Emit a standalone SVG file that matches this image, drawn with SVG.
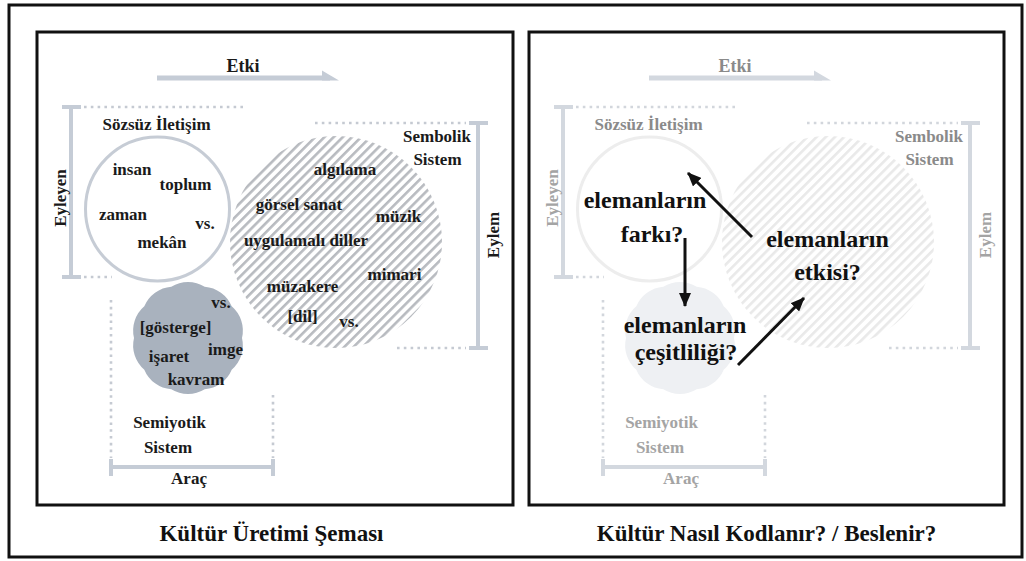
<svg xmlns="http://www.w3.org/2000/svg" width="1026" height="561" viewBox="0 0 1026 561">
  <defs>
    <style>
      .t { font-family: "Liberation Serif", "Times New Roman", serif; font-weight: bold; font-size: 17px; fill: #1a1a1a; text-anchor: middle; }
      .big { font-size: 24px; fill: #111; }
      .title { font-size: 23px; fill: #111; }
      .etki { font-size: 18px; }
      .gray { fill: #8a8a8a; }
      .gray2 { fill: #a4a4a4; }
      .frame { fill: none; stroke: #111; stroke-width: 3; }
      .bar { stroke: #c5ccd6; stroke-width: 4; fill: none; }
      .bar-f { stroke: #d3d8df; stroke-width: 4; fill: none; }
      .dots { stroke: #c5cad2; stroke-width: 2.6; stroke-dasharray: 2.6 4.2; fill: none; }
      .dots-f { stroke: #d2d6dc; stroke-width: 2.6; stroke-dasharray: 2.6 4.2; fill: none; }
      .conn { stroke: #111; stroke-width: 3; fill: none; marker-end: url(#head); }
    </style>
    <pattern id="stripes" width="6.5" height="6.5" patternUnits="userSpaceOnUse" patternTransform="rotate(45)">
      <rect width="2.6" height="6.5" fill="#b8bbc0"/>
    </pattern>
    <pattern id="stripes-f" width="6.5" height="6.5" patternUnits="userSpaceOnUse" patternTransform="rotate(45)">
      <rect width="2.6" height="6.5" fill="#e9e9e9"/>
    </pattern>
    <marker id="head" viewBox="0 0 14 12" markerWidth="14" markerHeight="12" refX="13" refY="6" orient="auto" markerUnits="userSpaceOnUse">
      <path d="M0,0 L14,6 L0,12 z" fill="#111"/>
    </marker>
    <!-- gently scalloped blob, centred at 0,0 -->
    <path id="blob" d="M54,0 A32,32 0 0 1 43.69,31.74 A32,32 0 0 1 16.69,51.36 A32,32 0 0 1 -16.69,51.36 A32,32 0 0 1 -43.69,31.74 A32,32 0 0 1 -54,0 A32,32 0 0 1 -43.69,-31.74 A32,32 0 0 1 -16.69,-51.36 A32,32 0 0 1 16.69,-51.36 A32,32 0 0 1 43.69,-31.74 A32,32 0 0 1 54,0 Z"/>
  </defs>

  <rect width="1026" height="561" fill="#fff"/>

  <!-- outer frame and the two panels -->
  <rect class="frame" x="9" y="5" width="1013" height="552"/>
  <rect class="frame" x="37" y="32" width="476" height="473"/>
  <rect class="frame" x="529" y="32" width="475" height="473"/>

  <!-- ===== left panel: Kültür Üretimi Şeması ===== -->
  <g id="etki-left">
    <line x1="157" y1="78" x2="330" y2="78" stroke="#c5ccd6" stroke-width="5"/>
    <polygon points="322,70.5 339,80.5 322,80.5" fill="#c5ccd6"/>
    <text class="t etki" x="243" y="72">Etki</text>
  </g>

  <g id="sozsuz-iletisim">
    <line class="bar" x1="71" y1="107" x2="71" y2="277"/>
    <line class="bar" x1="62" y1="107" x2="81" y2="107"/>
    <line class="bar" x1="62" y1="277" x2="81" y2="277"/>
    <line class="dots" x1="84" y1="107" x2="244" y2="107"/>
    <line class="dots" x1="84" y1="277" x2="112" y2="277"/>
    <text class="t" transform="translate(66,198) rotate(-90)" x="0" y="0">Eyleyen</text>
    <text class="t" x="156.5" y="130">Sözsüz İletişim</text>
    <circle cx="157.5" cy="209" r="72" fill="#fff" stroke="#c6ccd5" stroke-width="3"/>
    <text class="t" x="132" y="175">insan</text>
    <text class="t" x="185.5" y="190">toplum</text>
    <text class="t" x="123" y="220">zaman</text>
    <text class="t" x="205" y="229">vs.</text>
    <text class="t" x="162" y="248">mekân</text>
  </g>

  <g id="sembolik-sistem">
    <line class="bar" x1="478" y1="123" x2="478" y2="348"/>
    <line class="bar" x1="469" y1="123" x2="488" y2="123"/>
    <line class="bar" x1="469" y1="348" x2="488" y2="348"/>
    <line class="dots" x1="315" y1="123" x2="466" y2="123"/>
    <line class="dots" x1="397" y1="348" x2="466" y2="348"/>
    <text class="t" transform="translate(499,235) rotate(-90)" x="0" y="0">Eylem</text>
    <circle cx="336" cy="242" r="106" fill="url(#stripes)"/>
    <text class="t" x="437" y="142">Sembolik</text>
    <text class="t" x="437.5" y="165">Sistem</text>
    <text class="t" x="345" y="175">algılama</text>
    <text class="t" x="299" y="210">görsel sanat</text>
    <text class="t" x="398.5" y="222">müzik</text>
    <text class="t" x="306" y="246">uygulamalı diller</text>
    <text class="t" x="394.5" y="280">mimari</text>
    <text class="t" x="302.5" y="292">müzakere</text>
    <text class="t" x="302.5" y="322">[dil]</text>
    <text class="t" x="349" y="327">vs.</text>
  </g>

  <g id="semiyotik-sistem">
    <line class="dots" x1="111" y1="300" x2="111" y2="458"/>
    <line class="dots" x1="273" y1="395" x2="273" y2="458"/>
    <line class="bar" x1="111" y1="467" x2="273" y2="467"/>
    <line class="bar" x1="111" y1="459" x2="111" y2="476"/>
    <line class="bar" x1="273" y1="459" x2="273" y2="476"/>
    <use href="#blob" transform="translate(188,338)" fill="#a9b2be"/>
    <text class="t" x="221" y="308">vs.</text>
    <text class="t" x="175.5" y="333">[gösterge]</text>
    <text class="t" x="225.5" y="355">imge</text>
    <text class="t" x="169" y="362">işaret</text>
    <text class="t" x="196" y="385">kavram</text>
    <text class="t" x="169.5" y="428">Semiyotik</text>
    <text class="t" x="168" y="453">Sistem</text>
    <text class="t" x="189" y="484">Araç</text>
  </g>

  <text id="title-left" class="t title" x="271.5" y="541">Kültür Üretimi Şeması</text>

  <!-- ===== right panel: Kültür Nasıl Kodlanır? / Beslenir? ===== -->
  <g id="etki-right" transform="translate(492,0)">
    <line x1="157" y1="78" x2="330" y2="78" stroke="#d3d8df" stroke-width="5"/>
    <polygon points="322,70.5 339,80.5 322,80.5" fill="#d3d8df"/>
    <text class="t etki gray" x="243" y="72">Etki</text>
  </g>

  <g id="sozsuz-iletisim-faded" transform="translate(492,0)">
    <line class="bar-f" x1="71" y1="107" x2="71" y2="277"/>
    <line class="bar-f" x1="62" y1="107" x2="81" y2="107"/>
    <line class="bar-f" x1="62" y1="277" x2="81" y2="277"/>
    <line class="dots-f" x1="84" y1="107" x2="244" y2="107"/>
    <line class="dots-f" x1="84" y1="277" x2="112" y2="277"/>
    <text class="t gray2" transform="translate(66,198) rotate(-90)" x="0" y="0">Eyleyen</text>
    <text class="t gray" x="156.5" y="130">Sözsüz İletişim</text>
    <circle cx="157.5" cy="209" r="72" fill="#fff" stroke="#ededed" stroke-width="3"/>
  </g>

  <g id="sembolik-sistem-faded" transform="translate(492,0)">
    <line class="bar-f" x1="478" y1="123" x2="478" y2="348"/>
    <line class="bar-f" x1="469" y1="123" x2="488" y2="123"/>
    <line class="bar-f" x1="469" y1="348" x2="488" y2="348"/>
    <line class="dots-f" x1="315" y1="123" x2="466" y2="123"/>
    <line class="dots-f" x1="397" y1="348" x2="466" y2="348"/>
    <text class="t gray2" transform="translate(499,235) rotate(-90)" x="0" y="0">Eylem</text>
    <circle cx="336" cy="242" r="106" fill="url(#stripes-f)"/>
    <text class="t gray" x="437" y="142">Sembolik</text>
    <text class="t gray" x="437.5" y="165">Sistem</text>
  </g>

  <g id="semiyotik-sistem-faded" transform="translate(492,0)">
    <line class="dots-f" x1="111" y1="300" x2="111" y2="458"/>
    <line class="dots-f" x1="273" y1="395" x2="273" y2="458"/>
    <line class="bar-f" x1="111" y1="467" x2="273" y2="467"/>
    <line class="bar-f" x1="111" y1="459" x2="111" y2="476"/>
    <line class="bar-f" x1="273" y1="459" x2="273" y2="476"/>
    <use href="#blob" transform="translate(188,338)" fill="#eef0f3"/>
    <text class="t gray2" x="169.5" y="428">Semiyotik</text>
    <text class="t gray2" x="168" y="453">Sistem</text>
    <text class="t gray2" x="189" y="484">Araç</text>
  </g>

  <g id="q-fark">
    <text class="t big" x="645" y="208">elemanların</text>
    <text class="t big" x="652" y="242">farkı?</text>
  </g>
  <g id="q-etki">
    <text class="t big" x="827.5" y="247">elemanların</text>
    <text class="t big" x="827.5" y="280">etkisi?</text>
  </g>
  <g id="q-cesitlilik">
    <text class="t big" x="685" y="333">elemanların</text>
    <text class="t big" x="686" y="360">çeşitliliği?</text>
  </g>

  <g id="connectors">
    <line class="conn" x1="752" y1="237" x2="688" y2="173"/>
    <line class="conn" x1="685" y1="238" x2="685" y2="306"/>
    <line class="conn" x1="738" y1="365" x2="804" y2="298"/>
  </g>

  <text id="title-right" class="t title" x="766.5" y="541">Kültür Nasıl Kodlanır? / Beslenir?</text>
</svg>
